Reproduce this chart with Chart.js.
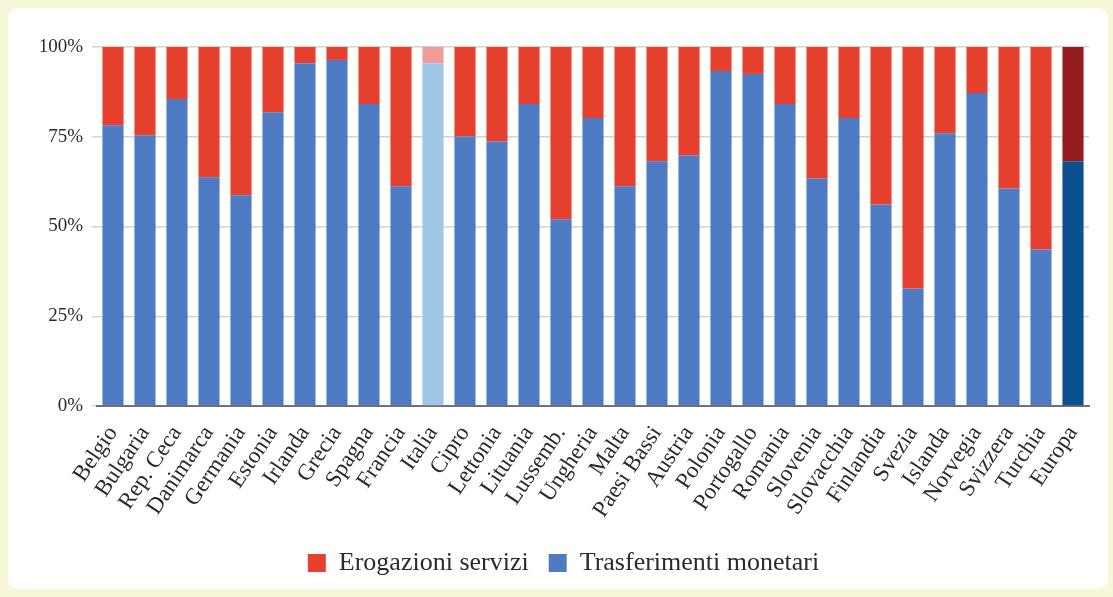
<!DOCTYPE html>
<html>
<head>
<meta charset="utf-8">
<script src="https://cdn.jsdelivr.net/npm/chart.js@4/dist/chart.umd.min.js"></script>
<style>
  html, body { margin: 0; padding: 0; }
  body { width: 1113px; height: 597px; background: #f7f6d8; position: relative; overflow: hidden; }
  .panel { position: absolute; left: 8px; top: 8px; right: 5px; bottom: 8px; background: #fff; border-radius: 10px; }
  .wrap { position: absolute; left: 0; top: 0; width: 1113px; height: 597px; }
</style>
</head>
<body>
<div class="panel"></div>
<div class="wrap"><canvas id="chart" width="1113" height="597"></canvas></div>
<script>
const countries = [
  'Belgio', 'Bulgaria', 'Rep. Ceca', 'Danimarca', 'Germania', 'Estonia', 'Irlanda', 'Grecia',
  'Spagna', 'Francia', 'Italia', 'Cipro', 'Lettonia', 'Lituania', 'Lussemb.', 'Ungheria',
  'Malta', 'Paesi Bassi', 'Austria', 'Polonia', 'Portogallo', 'Romania', 'Slovenia',
  'Slovacchia', 'Finlandia', 'Svezia', 'Islanda', 'Norvegia', 'Svizzera', 'Turchia', 'Europa'
];

// quota % trasferimenti monetari (blu)
const trasferimenti = [
  78.2, 75.4, 85.5, 63.7, 58.7, 81.8, 95.5, 96.4,
  84.1, 61.2, 95.5, 75.1, 73.7, 84.1, 52.0, 80.2,
  61.2, 68.2, 69.8, 93.3, 92.5, 84.1, 63.4,
  80.2, 56.1, 32.7, 76.0, 87.2, 60.6, 43.6, 68.2
];

// quota % erogazioni servizi (rosso)
const erogazioni = [
  21.8, 24.6, 14.5, 36.3, 41.3, 18.2, 4.5, 3.6,
  15.9, 38.8, 4.5, 24.9, 26.3, 15.9, 48.0, 19.8,
  38.8, 31.8, 30.2, 6.7, 7.5, 15.9, 36.6,
  19.8, 43.9, 67.3, 24.0, 12.8, 39.4, 56.4, 31.8
];

const yTicks = [0, 25, 50, 75, 100];

const blue = '#4f7bc3';
const red = '#e8402f';
const special = {
  'Italia': { blue: '#9fc5e8', red: '#f09c9c' },
  'Europa': { blue: '#0c5091', red: '#951c1f' }
};

function colorFor(key, base) {
  return function (c) {
    const s = special[countries[c.dataIndex]];
    return s ? s[key] : base;
  };
}

const serif = "'Liberation Serif', 'DejaVu Serif', serif";

new Chart(document.getElementById('chart'), {
  type: 'bar',
  data: {
    labels: countries,
    datasets: [
      {
        label: 'Trasferimenti monetari',
        data: trasferimenti,
        backgroundColor: colorFor('blue', blue),
        barPercentage: 0.66,
        categoryPercentage: 1
      },
      {
        label: 'Erogazioni servizi',
        data: erogazioni,
        backgroundColor: colorFor('red', red),
        barPercentage: 0.66,
        categoryPercentage: 1
      }
    ]
  },
  options: {
    responsive: false,
    animation: false,
    layout: {
      padding: { left: 38, right: 24, top: 47, bottom: 11 }
    },
    plugins: {
      legend: {
        position: 'bottom',
        reverse: true,
        labels: {
          color: '#2b2b2b',
          boxWidth: 18,
          boxHeight: 18,
          padding: 20,
          font: { family: serif, size: 26 }
        }
      },
      tooltip: { enabled: false }
    },
    scales: {
      x: {
        stacked: true,
        grid: { display: false },
        border: { color: '#707070', width: 2 },
        ticks: {
          color: '#2b2b2b',
          minRotation: 56,
          maxRotation: 56,
          autoSkip: false,
          padding: 7,
          font: { family: serif, size: 23 }
        },
        afterFit: function (s) { s.height = 124; }
      },
      y: {
        stacked: true,
        min: 0,
        max: 100,
        afterBuildTicks: function (s) { s.ticks = yTicks.map(v => ({ value: v })); },
        afterFit: function (s) { s.width = 59; },
        grid: {
          color: '#d3d3d3',
          lineWidth: 1.5,
          tickLength: 5
        },
        border: { display: false },
        ticks: {
          color: '#2b2b2b',
          padding: 9,
          font: { family: serif, size: 19 },
          callback: function (v) { return v + '%'; }
        }
      }
    }
  }
});
</script>
</body>
</html>
